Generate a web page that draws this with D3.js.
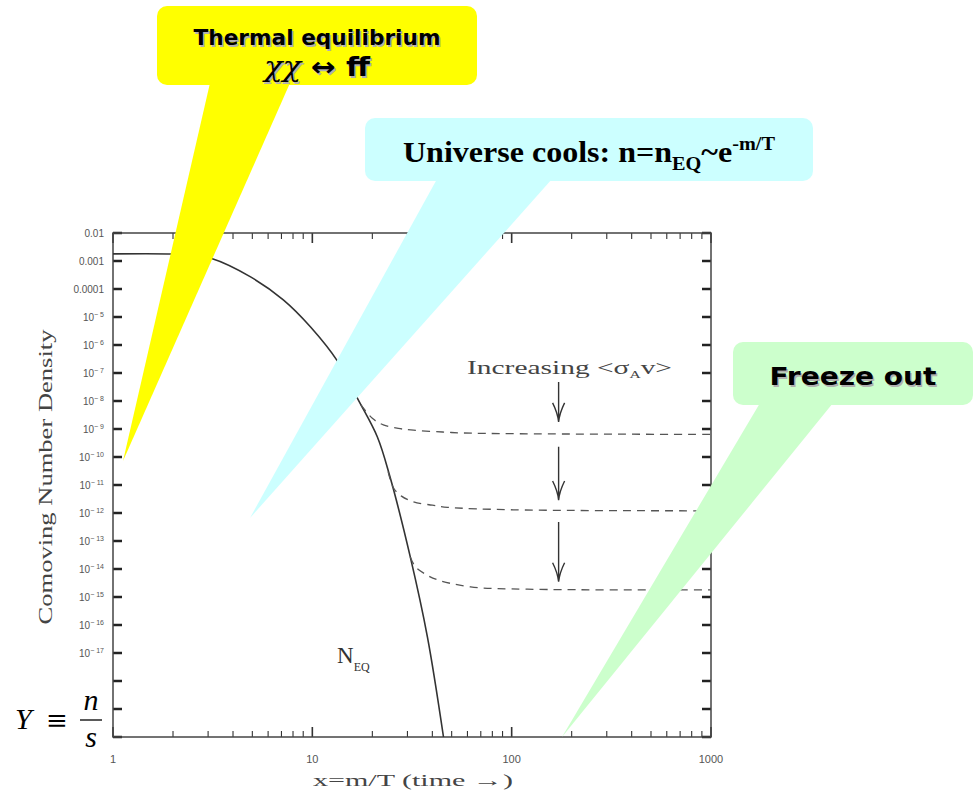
<!DOCTYPE html>
<html>
<head>
<meta charset="utf-8">
<script src="https://cdn.jsdelivr.net/npm/d3@7"></script>
<style>
    body { margin: 0; background: #fff; }
    svg text { font-family: 'Liberation Serif', serif; }
</style>
</head>
<body>
<div class="chart"></div>
<script>
// equilibrium number density
const eqX = [1, 2, 2.5, 3.1, 4.9, 7.15, 9.8, 13.4, 17, 21.2, 24.5, 31, 37.8, 45.5];
const eqY = [1.8e-3, 1.78e-3, 1.6e-3, 1.25e-3, 2.7e-4, 4.1e-5, 4.4e-6, 2.6e-7, 1.1e-8, 5.2e-10, 2e-11, 2.7e-14, 3.7e-17, 1e-20];

// freeze-out branches (dashed), weakest to strongest annihilation
const fo1X = [17.5, 20, 22.7, 27, 32.2, 45, 57.4, 100, 1000];
const fo1Y = [7.4e-9, 2.4e-9, 1.4e-9, 1.05e-9, 9.1e-10, 7.8e-10, 7.2e-10, 6.8e-10, 6.4e-10];
const fo2X = [24, 25.5, 28, 32.2, 40, 47.7, 102, 1000];
const fo2Y = [3e-11, 8e-12, 4e-12, 2.5e-12, 1.9e-12, 1.6e-12, 1.3e-12, 1.2e-12];
const fo3X = [31, 32.9, 37, 42.5, 62.2, 120, 1000];
const fo3Y = [2.7e-14, 1.2e-14, 6.5e-15, 4.1e-15, 2.3e-15, 1.9e-15, 1.8e-15];

// "increasing <sigma v>" arrows: x position, start and tip values
const arrowX = 172;
const arrowTop = [4.8e-8, 2.3e-10, 4.8e-13];
const arrowTip = [1.8e-9, 2.9e-12, 3.5e-15];

// axes
const xTickValues = [1, 10, 100, 1000];
const xTickLabels = ['1', '10', '100', '1000'];
const yTickValues = [1e-2, 1e-3, 1e-4, 1e-5, 1e-6, 1e-7, 1e-8, 1e-9, 1e-10, 1e-11, 1e-12, 1e-13, 1e-14, 1e-15, 1e-16, 1e-17, 1e-18, 1e-19, 1e-20];
const yTickLabels = ['0.01', '0.001', '0.0001', '10^-5', '10^-6', '10^-7', '10^-8', '10^-9', '10^-10', '10^-11', '10^-12', '10^-13', '10^-14', '10^-15', '10^-16', '10^-17', '10^-18', '10^-19', '10^-20'];

(function () {
    const width = 978, height = 795;
    const frame = { left: 113, right: 711, top: 233, bottom: 737 };
    const boxTop = 671; // white box with Y = n/s hides the lowest labels

    let svg = d3.select('.chart').append('svg')
        .attr('width', width)
        .attr('height', height);

    let x = d3.scaleLog().domain([1, 1000]).range([frame.left, frame.right]);
    let y = d3.scaleLog().domain([1e-20, 1e-2]).range([frame.bottom, frame.top]);

    let plot = svg.append('g').classed('plot', true);

    // minor ticks 2..9 in every decade
    function minors(scale) {
        let out = [];
        scale.ticks().forEach(function (t) {
            let m = t / Math.pow(10, Math.floor(Math.log10(t) + 1e-9));
            if (Math.abs(m - 1) > 1e-6) out.push(t);
        });
        return out;
    }
    const xMinor = minors(x);
    const yMinor = minors(y);

    let ticks = plot.append('g').attr('stroke', '#333');
    // bottom + top
    ticks.selectAll('.xmaj').data(xTickValues).join('path')
        .attr('d', d => `M${x(d)},${frame.bottom}v-10M${x(d)},${frame.top}v10`)
        .attr('stroke-width', 1.6);
    ticks.selectAll('.xmin').data(xMinor).join('path')
        .attr('d', d => `M${x(d)},${frame.bottom}v-6M${x(d)},${frame.top}v6`)
        .attr('stroke-width', 1.1);
    // left + right
    ticks.selectAll('.ymaj').data(yTickValues).join('path')
        .attr('d', d => `M${frame.left},${y(d)}h9M${frame.right},${y(d)}h-9`)
        .attr('stroke-width', 2.4)
        .attr('stroke', '#222');
    ticks.selectAll('.ymin').data(yMinor).join('path')
        .attr('d', d => `M${frame.left},${y(d)}h3M${frame.right},${y(d)}h-3`)
        .attr('stroke-width', 0.8)
        .attr('stroke', '#666');

    plot.append('rect')
        .attr('x', frame.left).attr('y', frame.top)
        .attr('width', frame.right - frame.left)
        .attr('height', frame.bottom - frame.top)
        .attr('fill', 'none')
        .attr('stroke', '#444')
        .attr('stroke-width', 1.5);

    // tick labels
    plot.selectAll('.xlab').data(xTickValues).join('text')
        .attr('x', d => x(d))
        .attr('y', 763)
        .attr('text-anchor', 'middle')
        .style('font-family', 'Liberation Sans, sans-serif')
        .style('font-size', '11px')
        .attr('fill', '#555')
        .text((d, i) => xTickLabels[i]);

    let shownY = yTickValues.map((d, i) => [d, yTickLabels[i]]).filter(d => y(d[0]) < boxTop);
    let ylab = plot.selectAll('.ylab').data(shownY).join('text')
        .attr('x', 104)
        .attr('y', d => y(d[0]) + 3.5)
        .attr('text-anchor', 'end')
        .style('font-family', 'Liberation Sans, sans-serif')
        .style('font-size', '10px')
        .attr('fill', '#555');
    ylab.each(function (d) {
        let lab = d[1];
        let t = d3.select(this);
        if (lab.indexOf('^') < 0) { t.text(lab); return; }
        let parts = lab.split('^');
        t.append('tspan').text(parts[0]);
        t.append('tspan').attr('dy', -4).style('font-size', '7px').text(parts[1].replace('-', '\u2212 '));
    });

    // axis titles
    plot.append('text')
        .attr('x', 413).attr('y', 786)
        .attr('text-anchor', 'middle')
        .attr('textLength', 200)
        .attr('lengthAdjust', 'spacingAndGlyphs')
        .style('font-size', '17px')
        .attr('fill', '#444')
        .text('x=m/T (time \u2192)');

    plot.append('text')
        .attr('transform', 'translate(52,477) rotate(-90)')
        .attr('text-anchor', 'middle')
        .attr('textLength', 295)
        .attr('lengthAdjust', 'spacingAndGlyphs')
        .style('font-size', '18px')
        .attr('fill', '#444')
        .text('Comoving Number Density');

    // curves
    const line = d3.line()
        .x(d => x(d[0]))
        .y(d => y(d[1]))
        .curve(d3.curveCatmullRom.alpha(0.5));

    plot.append('path')
        .datum(d3.zip(eqX, eqY))
        .attr('d', line)
        .attr('fill', 'none')
        .attr('stroke', '#333')
        .attr('stroke-width', 1.6);

    [[fo1X, fo1Y], [fo2X, fo2Y], [fo3X, fo3Y]].forEach(function (s) {
        plot.append('path')
            .datum(d3.zip(s[0], s[1]))
            .attr('d', line)
            .attr('fill', 'none')
            .attr('stroke', '#555')
            .attr('stroke-width', 1.3)
            .attr('stroke-dasharray', '8,6');
    });

    // arrows
    plot.selectAll('.arrow').data(d3.zip(arrowTop, arrowTip)).join('path')
        .attr('d', function (d) {
            let ax = x(arrowX), t = y(d[1]);
            return `M${ax},${y(d[0])}V${t}M${ax - 6},${t - 19}Q${ax - 1},${t - 9} ${ax},${t}Q${ax + 1},${t - 9} ${ax + 6},${t - 19}`;
        })
        .attr('fill', 'none')
        .attr('stroke', '#333')
        .attr('stroke-width', 1.4);

    // in-plot annotations
    let inc = plot.append('text')
        .attr('x', 467).attr('y', 374)
        .attr('textLength', 205)
        .attr('lengthAdjust', 'spacingAndGlyphs')
        .style('font-size', '19px')
        .attr('fill', '#444');
    inc.append('tspan').text('Increasing <\u03c3');
    inc.append('tspan').attr('dy', 4).style('font-size', '10px').text('A');
    inc.append('tspan').attr('dy', -4).text('v>');

    let neq = plot.append('text')
        .attr('x', 337).attr('y', 663)
        .style('font-size', '23px')
        .attr('fill', '#333');
    neq.append('tspan').text('N');
    neq.append('tspan').attr('dy', 8).style('font-size', '12px').text('EQ');

    // Y = n/s box over the lower axis labels
    let yBox = svg.append('g');
    yBox.append('rect')
        .attr('x', 0).attr('y', boxTop).attr('width', 109).attr('height', 84)
        .attr('fill', '#fff');
    yBox.append('text').attr('x', 15).attr('y', 729)
        .style('font-size', '30px').style('font-style', 'italic').text('Y');
    yBox.append('text').attr('x', 46).attr('y', 729)
        .style('font-family', 'DejaVu Serif').style('font-size', '26px').text('\u2261');
    yBox.append('text').attr('x', 91).attr('y', 710).attr('text-anchor', 'middle')
        .style('font-size', '30px').style('font-style', 'italic').text('n');
    yBox.append('line').attr('x1', 80).attr('x2', 102).attr('y1', 720).attr('y2', 720)
        .attr('stroke', '#000').attr('stroke-width', 1.3);
    yBox.append('text').attr('x', 91).attr('y', 747).attr('text-anchor', 'middle')
        .style('font-size', '30px').style('font-style', 'italic').text('s');

    // speech-bubble callouts
    function callout(box, base, tip, fill) {
        let g = svg.append('g').classed('callout', true);
        g.append('path')
            .attr('d', `M${base[0]},${box.y + box.h - 2}L${base[1]},${box.y + box.h - 2}L${tip[0]},${tip[1]}Z`)
            .attr('fill', fill);
        g.append('rect')
            .attr('x', box.x).attr('y', box.y)
            .attr('width', box.w).attr('height', box.h)
            .attr('rx', 10)
            .attr('fill', fill);
        return g;
    }

    function shadowText(g, px, py, size, len, str) {
        [['#b0b0b0', 1.5], ['#000', 0]].forEach(function (c) {
            g.append('text')
                .attr('x', px + c[1]).attr('y', py + c[1])
                .attr('text-anchor', 'middle')
                .attr('textLength', len)
                .attr('lengthAdjust', 'spacingAndGlyphs')
                .style('font-family', 'DejaVu Sans, sans-serif')
                .style('font-weight', 'bold')
                .style('font-size', size + 'px')
                .attr('fill', c[0])
                .text(str);
        });
    }

    let yellow = callout({ x: 157, y: 6, w: 320, h: 79 }, [210, 290], [123, 461], '#ffff00');
    shadowText(yellow, 317, 45, 22, 247, 'Thermal equilibrium');
    [['#b0b0b0', 1.5], ['#000', 0]].forEach(function (c) {
        let t = yellow.append('text')
            .attr('x', 317 + c[1]).attr('y', 76 + c[1])
            .attr('text-anchor', 'middle')
            .attr('textLength', 106)
            .attr('lengthAdjust', 'spacingAndGlyphs')
            .attr('fill', c[0]);
        t.append('tspan').style('font-family', 'DejaVu Serif').style('font-style', 'italic').style('font-size', '27px').text('\u03c7\u03c7 ');
        t.append('tspan').style('font-family', 'DejaVu Sans').style('font-weight', 'bold').style('font-size', '26px').text('\u2194 ff');
    });

    let cyan = callout({ x: 365, y: 118, w: 448, h: 63 }, [437, 552], [250, 518], '#ccffff');
    let uc = cyan.append('text')
        .attr('x', 403).attr('y', 162)
        .attr('textLength', 372)
        .attr('lengthAdjust', 'spacingAndGlyphs')
        .style('font-weight', 'bold')
        .style('font-size', '30px')
        .attr('fill', '#000');
    uc.append('tspan').text('Universe cools: n=n');
    uc.append('tspan').attr('dy', 8).style('font-size', '19px').text('EQ');
    uc.append('tspan').attr('dy', -8).text('~e');
    uc.append('tspan').attr('dy', -12).style('font-size', '19px').text('-m/T');

    let green = callout({ x: 733, y: 342, w: 240, h: 63 }, [760, 833], [562, 737], '#ccffcc');
    shadowText(green, 853, 385, 25, 167, 'Freeze out');
})();
</script>
</body>
</html>
